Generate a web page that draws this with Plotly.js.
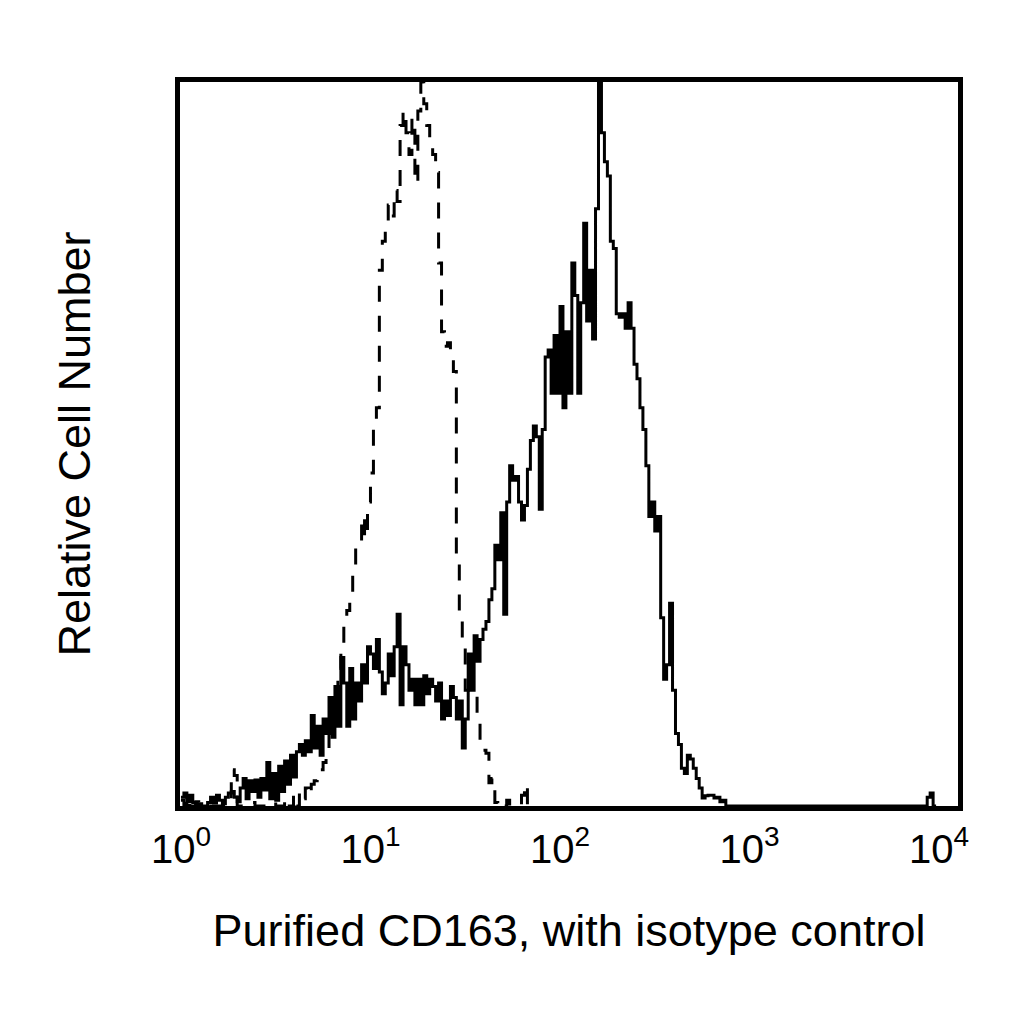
<!DOCTYPE html>
<html>
<head>
<meta charset="utf-8">
<script src="https://cdn.plot.ly/plotly-3.0.1.min.js"></script>
<style>
  html, body { margin: 0; padding: 0; background: #ffffff; }
  #chart { width: 1024px; height: 1024px; }
</style>
</head>
<body>
<div id="chart"></div>
<script>
// Flow histogram, 256 log channels over 4 decades (64 per decade)
const channelsPerDecade = 64;

// relative cell number per channel, % of the highest channel
const cd163Counts = [
  1.2, 1.8, 0.6, 1.5, 0.5, 0, 0.3, 0, 0, 0.5,
  1.2, 0.4, 1.5, 0.8, 0.3, 1.2, 1.8, 2.0, 1.2, 0.6,
  2.5, 3.8, 1.0, 3.5, 2.0, 3.6, 1.2, 3.8, 2.2, 6.0,
  1.0, 4.5, 0.8, 5.5, 2.0, 6.2, 3.0, 7.0, 4.0, 7.5,
  8.5, 7.0, 9.0, 7.5, 12.5, 8.0, 11.0, 7.0, 12.0, 10.0,
  15.0, 9.5, 16.5, 11.0, 20.5, 17.0, 11.0, 19.0, 12.0, 17.0,
  14.5, 19.5, 17.0, 22.0, 21.0, 19.0, 23.0, 18.5, 15.5, 17.0,
  21.0, 18.0, 22.0, 26.5, 14.0, 22.0, 19.5, 16.0, 17.5, 14.0,
  17.5, 14.0, 18.0, 15.5, 17.5, 16.5, 14.5, 17.0, 12.0, 14.5,
  12.5, 16.5, 15.0, 12.0, 14.5, 8.0, 12.0, 21.0, 16.0, 23.5,
  20.0, 23.0, 24.4, 25.5, 28.5, 30.0, 36.0, 34.0, 40.5, 26.5,
  42.0, 47.0, 45.0, 45.5, 42.0, 39.5, 41.5, 46.5, 50.5, 52.5,
  51.0, 41.0, 52.0, 62.0, 63.0, 57.0, 65.0, 57.0, 69.0, 55.0,
  65.5, 57.0, 75.0, 70.5, 57.0, 69.5, 80.5, 67.0, 74.0, 64.5,
  82.5, 100, 93.0, 89.0, 87.0, 78.0, 77.0, 68.0, 67.5, 68.0,
  66.0, 69.5, 66.0, 61.0, 59.0, 55.0, 52.0, 47.0, 40.0, 42.0,
  38.0, 40.0, 26.0, 17.5, 19.5, 28.0, 16.0, 10.0, 8.5, 5.2,
  4.5, 7.0, 6.5, 5.2, 3.8, 2.5, 1.1, 1.4, 1.5, 1.5,
  1.1, 1.2, 0.6, 0.8, 0, 0, 0, 0, 0, 0,
  0, 0, 0, 0, 0, 0, 0, 0, 0, 0,
  0, 0, 0, 0, 0, 0, 0, 0, 0, 0,
  0, 0, 0, 0, 0, 0, 0, 0, 0, 0,
  0, 0, 0, 0, 0, 0, 0, 0, 0, 0,
  0, 0, 0, 0, 0, 0, 0, 0, 0, 0,
  0, 0, 0, 0, 0, 0, 0, 0, 0, 0,
  0, 0, 1.2, 1.8, 0, 0
];

const isotypeCounts = [
  0.8, 0, 1.2, 0, 0, 0.6, 0, 0, 0, 0,
  0, 0, 0, 0, 0, 0, 0.5, 5.0, 4.2, 0,
  0, 0, 0, 0, 0.5, 0, 0, 0, 0, 0,
  0, 0.5, 0, 0, 0, 1.0, 0, 0, 1.5, 0,
  2.0, 1.0, 2.5, 1.5, 3.0, 3.5, 4.0, 5.0, 6.0, 7.5,
  10.0, 12.0, 15.0, 19.0, 22.0, 26.0, 27.0, 28.5, 33.0, 36.0,
  36.0, 40.0, 37.0, 42.0, 46.0, 52.0, 55.0, 74.0, 78.0, 80.0,
  83.0, 81.5, 85.0, 83.5, 94.0, 96.0, 93.0, 90.0, 95.0, 86.0,
  96.0, 100, 97.0, 94.0, 91.5, 90.0, 87.5, 75.0, 65.5, 63.5,
  64.0, 62.0, 60.0, 34.0, 27.0, 23.0, 16.0, 16.0, 16.0, 16.0,
  12.0, 8.0, 7.7, 7.3, 3.2, 3.8, 0.5, 0, 0.3, 0,
  0.8, 0, 0, 0, 0, 1.5, 3.0, 0, 0, 0
];

const tickValues = [1, 10, 100, 1000, 10000];
const tickLabels = [
  "10<sup>0</sup>", "10<sup>1</sup>", "10<sup>2</sup>",
  "10<sup>3</sup>", "10<sup>4</sup>"
];

// left edge of every channel on the fluorescence scale
function channelEdges(counts) {
  return counts.map((_, i) => Math.pow(10, i / channelsPerDecade));
}

const fontFamily = "Liberation Sans, Arial, sans-serif";

const traces = [
  {
    x: channelEdges(cd163Counts),
    y: cd163Counts,
    type: "scatter",
    mode: "lines",
    line: { color: "#000000", width: 3, shape: "hv" },
    name: "CD163",
  },
  {
    x: channelEdges(isotypeCounts),
    y: isotypeCounts,
    type: "scatter",
    mode: "lines",
    line: { color: "#000000", width: 3, shape: "hv", dash: "16px,14px" },
    name: "Isotype control",
  },
];

const layout = {
  width: 1024,
  height: 1024,
  margin: { l: 180, r: 66, t: 82, b: 218 },
  paper_bgcolor: "#ffffff",
  plot_bgcolor: "#ffffff",
  showlegend: false,
  hovermode: false,
  font: { family: fontFamily, color: "#000000" },
  xaxis: {
    type: "log",
    range: [-0.005, 4.1],
    showline: true,
    linecolor: "#000000",
    linewidth: 5,
    mirror: true,
    showgrid: false,
    zeroline: false,
    ticks: "",
    tickvals: tickValues,
    ticktext: tickLabels,
    ticklabelstandoff: 4,
    tickfont: { family: fontFamily, size: 40, color: "#000000" },
    title: {
      text: "Purified CD163, with isotype control",
      font: { family: fontFamily, size: 45, color: "#000000" },
      standoff: 46,
    },
  },
  yaxis: {
    range: [0, 100],
    showline: true,
    linecolor: "#000000",
    linewidth: 5,
    mirror: true,
    showgrid: false,
    zeroline: false,
    ticks: "",
    showticklabels: false,
    title: {
      text: "Relative Cell Number",
      font: { family: fontFamily, size: 45, color: "#000000" },
      standoff: 72,
    },
  },
};

Plotly.newPlot("chart", traces, layout, { displayModeBar: false, staticPlot: true });
</script>
</body>
</html>
